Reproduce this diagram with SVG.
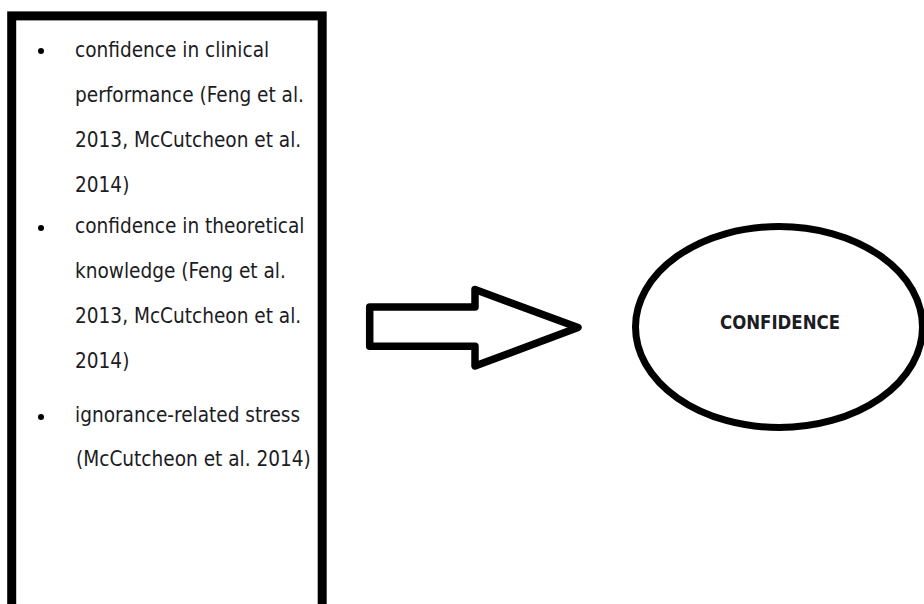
<svg xmlns="http://www.w3.org/2000/svg" width="924" height="604" viewBox="0 0 924 604">
  <style>
    .t { font-family: "DejaVu Sans Condensed", "DejaVu Sans", sans-serif; font-stretch: condensed; font-size: 20.6px; fill: #1c1c24; }
    .lbl { font-family: "DejaVu Sans Condensed", "DejaVu Sans", sans-serif; font-stretch: condensed; font-size: 19.5px; font-weight: bold; fill: #1c1c24; }
    .shape { fill: #ffffff; stroke: #000000; }
    .bullet { fill: #000000; }
  </style>
  <rect width="924" height="604" fill="#ffffff"/>
  <g id="factors">
    <rect class="shape" x="11.7" y="15.9" width="310.5" height="640" stroke-width="9"/>
    <circle class="bullet" cx="41" cy="51" r="3"/>
    <circle class="bullet" cx="41" cy="228" r="3"/>
    <circle class="bullet" cx="41" cy="417" r="3"/>
    <text class="t" x="75" y="57">confidence in clinical</text>
    <text class="t" x="75" y="102">performance (Feng et al.</text>
    <text class="t" x="75" y="147">2013, McCutcheon et al.</text>
    <text class="t" x="75" y="192">2014)</text>
    <text class="t" x="75" y="233">confidence in theoretical</text>
    <text class="t" x="75" y="278">knowledge (Feng et al.</text>
    <text class="t" x="75" y="323">2013, McCutcheon et al.</text>
    <text class="t" x="75" y="368">2014)</text>
    <text class="t" x="75" y="422">ignorance-related stress</text>
    <text class="t" x="76" y="466">(McCutcheon et al. 2014)</text>
  </g>
  <g id="connectors">
    <polygon class="shape" points="369.7,307 475,307 475,289.5 578,327.5 475,366 475,346.3 369.7,346.3" stroke-width="7.5" stroke-linejoin="round"/>
  </g>
  <g id="confidence">
    <ellipse class="shape" cx="779" cy="327" rx="143.5" ry="100.5" stroke-width="7"/>
    <text class="lbl" x="720" y="329" textLength="120" lengthAdjust="spacingAndGlyphs">CONFIDENCE</text>
  </g>
</svg>
